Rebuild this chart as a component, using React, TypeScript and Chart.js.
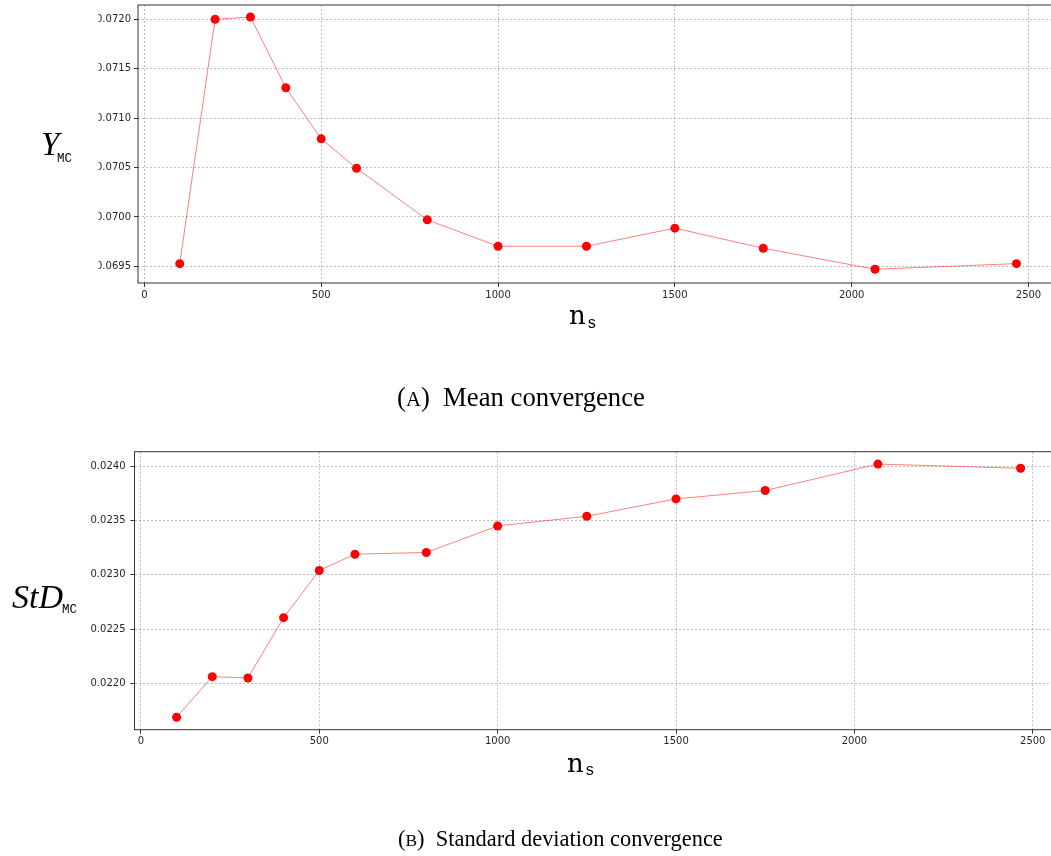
import React, { useEffect, useRef } from "react";
import { Chart, registerables } from "chart.js";

Chart.register(...registerables);

// Sample sizes n_s
const sampleSizes = [100, 200, 300, 400, 500, 600, 800, 1000, 1250, 1500, 1750, 2066, 2466];
// Monte Carlo mean estimate per sample size
const meanValues = [0.069527, 0.0720, 0.072023, 0.071307, 0.07079, 0.070493, 0.06997, 0.069703, 0.069703, 0.069886, 0.069683, 0.06947, 0.069527];
// Monte Carlo standard deviation estimate per sample size
const stdValues = [0.021687, 0.022061, 0.022049, 0.022605, 0.02304, 0.02319, 0.023206, 0.02345, 0.02354, 0.0237, 0.023777, 0.024021, 0.023982];

const xTicks = [0, 500, 1000, 1500, 2000, 2500];
const meanTicks = [0.0695, 0.07, 0.0705, 0.071, 0.0715, 0.072];
const stdTicks = [0.022, 0.0225, 0.023, 0.0235, 0.024];

const CANVAS_W = 1100;
const TICK_FONT = { family: "DejaVu Sans", size: 10 };
const TICK_COLOR = "#262626";

type TextRun = { text: string; font: string; dy?: number };
type TextItem = { x: number; y: number; runs: TextRun[]; fitWidth?: number };

// Draws text runs left to right from (x, y); optionally scales font sizes to a width.
function drawRuns(ctx: CanvasRenderingContext2D, item: TextItem) {
  let scale = 1;
  if (item.fitWidth) {
    let w = 0;
    for (const r of item.runs) {
      ctx.font = r.font;
      w += ctx.measureText(r.text).width;
    }
    scale = item.fitWidth / w;
  }
  let x = item.x;
  for (const r of item.runs) {
    const font = r.font.replace(/([\d.]+)px/, (_m, n) => `${(parseFloat(n) * scale).toFixed(2)}px`);
    ctx.font = font;
    ctx.fillText(r.text, x, item.y + (r.dy || 0));
    x += ctx.measureText(r.text).width;
  }
}

const decorPlugin = {
  id: "decor",
  afterDatasetsDraw(chart: any) {
    const { ctx, chartArea } = chart;
    ctx.save();
    ctx.strokeStyle = "#333333";
    ctx.lineWidth = 1;
    ctx.strokeRect(chartArea.left, chartArea.top, chartArea.right - chartArea.left, chartArea.bottom - chartArea.top);
    ctx.restore();
  },
  afterDraw(chart: any, _args: any, opts: any) {
    const { ctx } = chart;
    ctx.save();
    if (opts.mask) {
      ctx.fillStyle = "#ffffff";
      ctx.fillRect(opts.mask.x, opts.mask.y, opts.mask.w, opts.mask.h);
    }
    ctx.fillStyle = "#000000";
    ctx.textBaseline = "alphabetic";
    ctx.textAlign = "left";
    for (const item of opts.texts || []) drawRuns(ctx, item);
    ctx.restore();
  },
};

function makeConfig(
  values: number[],
  yTicks: number[],
  yMin: number,
  yMax: number,
  area: { left: number; right: number; top: number; bottom: number },
  canvasH: number,
  yLabelPad: number,
  decor: any
) {
  const xAxisH = 20;
  const gridOpts = {
    color: "rgba(0,0,0,0.32)",
    lineWidth: 0.8,
    tickColor: "#333333",
    tickLength: 4,
    tickWidth: 1,
    tickBorderDash: [],
  };
  return {
    type: "line" as const,
    data: {
      datasets: [
        {
          data: sampleSizes.map((x, i) => ({ x, y: values[i] })),
          borderColor: "rgba(255,0,0,0.5)",
          borderWidth: 1,
          pointRadius: 4.5,
          pointBackgroundColor: "#ff0000",
          pointBorderWidth: 0,
          pointHoverRadius: 4.5,
          tension: 0,
        },
      ],
    },
    options: {
      animation: false as const,
      responsive: false,
      devicePixelRatio: 1,
      events: [],
      layout: {
        padding: {
          left: 0,
          top: area.top,
          right: CANVAS_W - area.right,
          bottom: canvasH - area.bottom - xAxisH,
        },
      },
      scales: {
        x: {
          type: "linear" as const,
          min: -18,
          max: 2582,
          afterBuildTicks: (s: any) => {
            s.ticks = xTicks.map((v) => ({ value: v }));
          },
          afterFit: (s: any) => {
            s.height = xAxisH;
            s.paddingLeft = 0;
            s.paddingRight = 0;
          },
          ticks: {
            font: TICK_FONT,
            color: TICK_COLOR,
            padding: 2,
            maxRotation: 0,
            callback: (v: any) => String(v),
          },
          grid: gridOpts,
          border: { display: false, dash: [2, 2] },
        },
        y: {
          type: "linear" as const,
          min: yMin,
          max: yMax,
          afterBuildTicks: (s: any) => {
            s.ticks = yTicks.map((v) => ({ value: v }));
          },
          afterFit: (s: any) => {
            s.width = area.left;
            s.paddingTop = 0;
            s.paddingBottom = 0;
          },
          ticks: {
            font: TICK_FONT,
            color: TICK_COLOR,
            padding: yLabelPad,
            callback: (v: any) => Number(v).toFixed(4),
          },
          grid: gridOpts,
          border: { display: false, dash: [2, 2] },
        },
      },
      plugins: {
        legend: { display: false },
        tooltip: { enabled: false },
        decor,
      },
    },
    plugins: [decorPlugin],
  };
}

function ChartCanvas({ top, height, config }: { top: number; height: number; config: any }) {
  const ref = useRef<HTMLCanvasElement | null>(null);
  useEffect(() => {
    if (!ref.current) return;
    const chart = new Chart(ref.current, config);
    return () => chart.destroy();
  }, [config]);
  return (
    <canvas
      ref={ref}
      width={CANVAS_W}
      height={height}
      style={{ position: "absolute", left: 0, top, width: CANVAS_W, height, display: "block" }}
    />
  );
}

const SERIF = '"Liberation Serif"';
const MONO = '"Liberation Mono"';
const TT = '"DejaVu Serif"';

const meanConfig = makeConfig(
  meanValues,
  meanTicks,
  0.069331,
  0.072145,
  { left: 138, right: 1057.5, top: 5, bottom: 283 },
  420,
  3,
  {
    mask: { x: 74, y: 0, w: 24.5, h: 286 },
    texts: [
      { x: 41, y: 155, runs: [{ text: "Y", font: `italic 33px ${SERIF}` }] },
      { x: 57, y: 162, runs: [{ text: "MC", font: `12.5px ${MONO}` }] },
      { x: 569, y: 324, runs: [{ text: "n", font: `26px ${TT}` }] },
      { x: 587, y: 328, runs: [{ text: "s", font: `16px ${MONO}` }] },
      {
        x: 397,
        y: 406,
        fitWidth: 248,
        runs: [
          { text: "(", font: `27px ${SERIF}` },
          { text: "A", font: `21px ${SERIF}` },
          { text: ")  Mean convergence", font: `27px ${SERIF}` },
        ],
      },
    ],
  }
);

const stdConfig = makeConfig(
  stdValues,
  stdTicks,
  0.021572,
  0.024135,
  { left: 134.5, right: 1062, top: 21.7, bottom: 299.7 },
  426,
  5,
  {
    texts: [
      { x: 12, y: 178, runs: [{ text: "StD", font: `italic 34px ${SERIF}` }] },
      { x: 62, y: 183, runs: [{ text: "MC", font: `12.5px ${MONO}` }] },
      { x: 567, y: 342, runs: [{ text: "n", font: `26px ${TT}` }] },
      { x: 585, y: 345, runs: [{ text: "s", font: `16px ${MONO}` }] },
      {
        x: 398,
        y: 416,
        fitWidth: 325,
        runs: [
          { text: "(", font: `27px ${SERIF}` },
          { text: "B", font: `21px ${SERIF}` },
          { text: ")  Standard deviation convergence", font: `27px ${SERIF}` },
        ],
      },
    ],
  }
);

export default function App() {
  return (
    <div
      style={{
        position: "absolute",
        left: 0,
        top: 0,
        width: 1051,
        height: 856,
        overflow: "hidden",
        background: "#ffffff",
      }}
    >
      <ChartCanvas top={0} height={420} config={meanConfig} />
      <ChartCanvas top={430} height={426} config={stdConfig} />
    </div>
  );
}
